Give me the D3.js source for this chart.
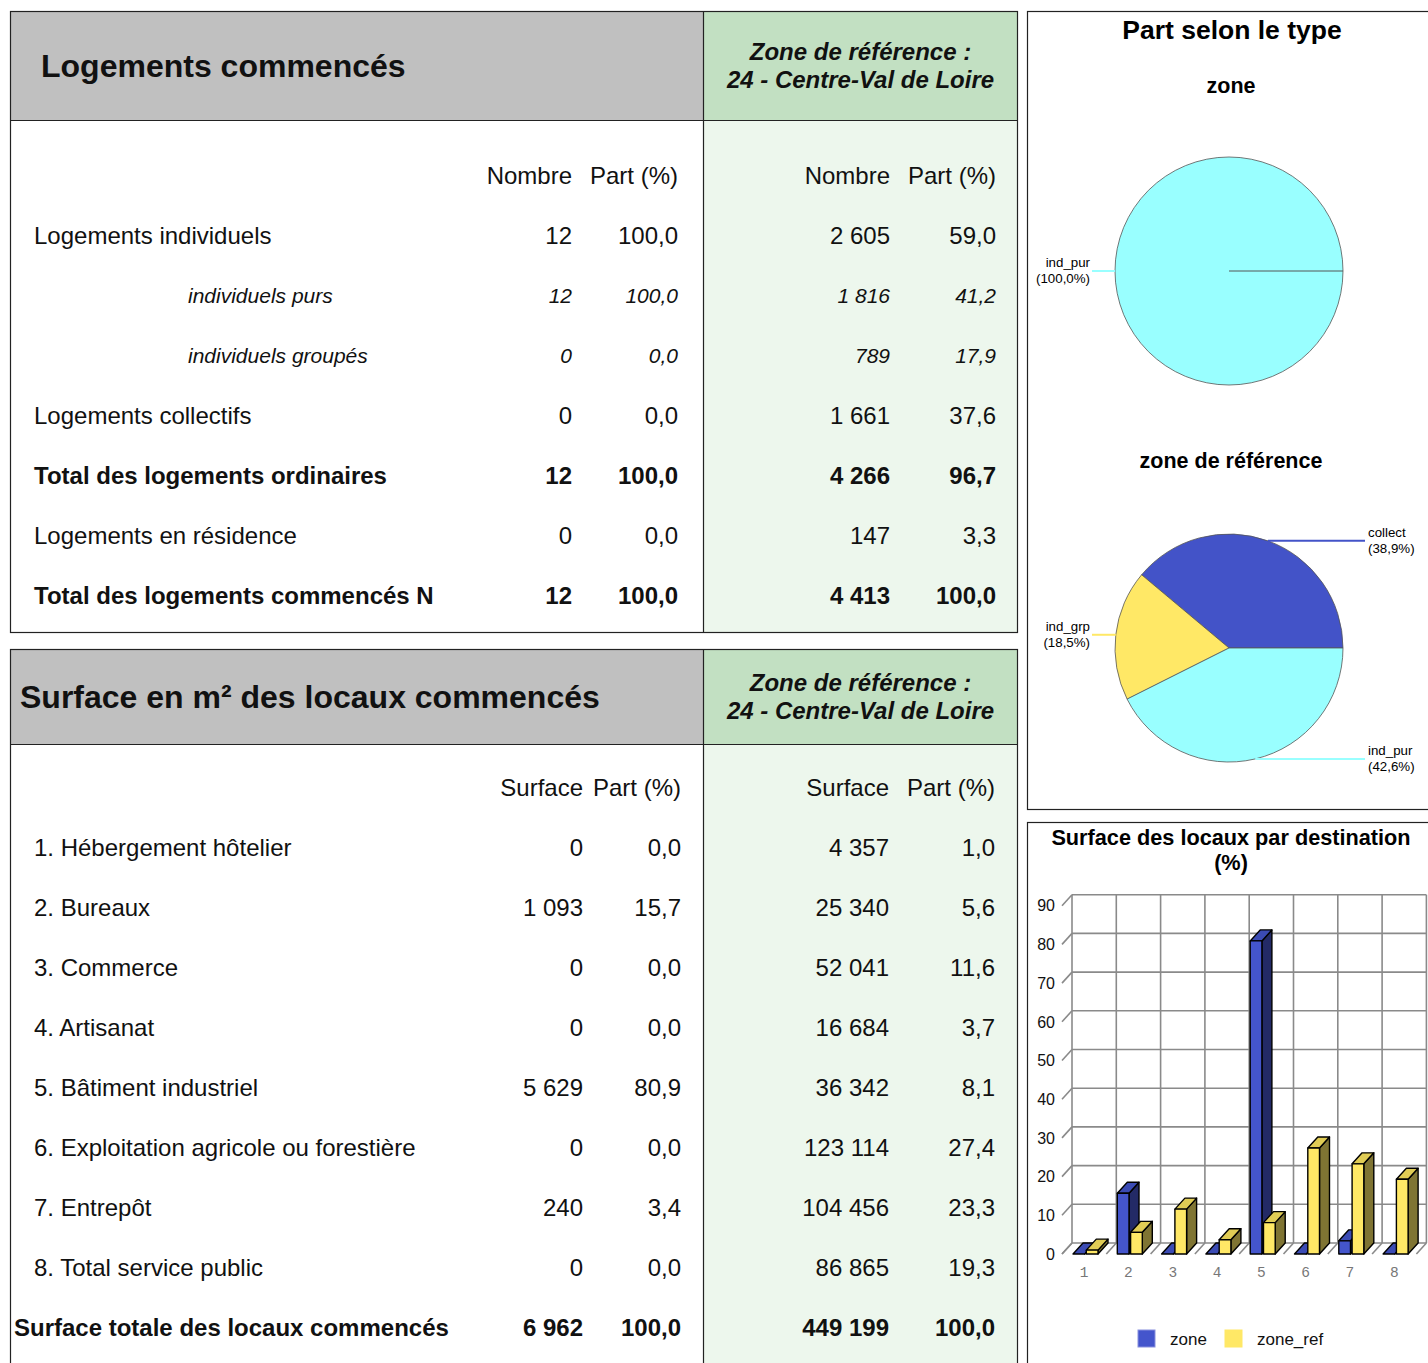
<!DOCTYPE html>
<html>
<head>
<meta charset="utf-8">
<script src="https://cdn.jsdelivr.net/npm/d3@7"></script>
<style>
  body { margin: 0; background: #fff; }
  svg { display: block; font-family: "Liberation Sans", Arial, sans-serif; }
</style>
</head>
<body>
<svg width="1428" height="1363"></svg>
<script>
// données logements
const logLabels = ["Logements individuels", "individuels purs", "individuels groupés", "Logements collectifs",
  "Total des logements ordinaires", "Logements en résidence", "Total des logements commencés N"];
const logZone = [12, 12, 0, 0, 12, 0, 12];
const logZonePart = [100.0, 100.0, 0.0, 0.0, 100.0, 0.0, 100.0];
const logRef = [2605, 1816, 789, 1661, 4266, 147, 4413];
const logRefPart = [59.0, 41.2, 17.9, 37.6, 96.7, 3.3, 100.0];

// données surfaces
const surfLabels = ["1. Hébergement hôtelier", "2. Bureaux", "3. Commerce", "4. Artisanat",
  "5. Bâtiment industriel", "6. Exploitation agricole ou forestière", "7. Entrepôt",
  "8. Total service public", "Surface totale des locaux commencés"];
const surfZone = [0, 1093, 0, 0, 5629, 0, 240, 0, 6962];
const surfZonePart = [0.0, 15.7, 0.0, 0.0, 80.9, 0.0, 3.4, 0.0, 100.0];
const surfRef = [4357, 25340, 52041, 16684, 36342, 123114, 104456, 86865, 449199];
const surfRefPart = [1.0, 5.6, 11.6, 3.7, 8.1, 27.4, 23.3, 19.3, 100.0];

// camemberts
const pieZoneTypes = ["ind_pur"];
const pieZoneValues = [100.0];
const pieRefTypes = ["collect", "ind_grp", "ind_pur"];
const pieRefValues = [38.9, 18.5, 42.6];

// histogramme
const barCats = ["1", "2", "3", "4", "5", "6", "7", "8"];
const barSeries = ["zone", "zone_ref"];
const barTicks = [0, 10, 20, 30, 40, 50, 60, 70, 80, 90];

const svg = d3.select("svg");
const fr = d3.formatLocale({decimal: ",", thousands: " ", grouping: [3], currency: ["", ""]});
const fmtInt = fr.format(",d");
const fmtPct = fr.format(".1f");

const typeColor = {collect: "#4353c8", ind_grp: "#ffe866", ind_pur: "#99ffff"};

function txt(g, x, y, s, size, opts = {}) {
  return g.append("text")
    .attr("x", x).attr("y", y).attr("dy", "0.33em")
    .attr("font-size", size)
    .attr("font-weight", opts.bold ? "bold" : null)
    .attr("font-style", opts.italic ? "italic" : null)
    .attr("text-anchor", opts.anchor || "start")
    .attr("fill", opts.fill || "#111")
    .text(s);
}

// ---------- tableaux ----------
function drawTable(t) {
  const g = svg.append("g");
  const L = 10.5, M = 703.5, R = 1017.5;
  const bodyTop = t.top + t.headH;

  g.append("rect").attr("x", L).attr("y", t.top).attr("width", M - L).attr("height", t.headH).attr("fill", "#c0c0c0");
  g.append("rect").attr("x", M).attr("y", t.top).attr("width", R - M).attr("height", t.headH).attr("fill", "#c2e0c2");
  g.append("rect").attr("x", M).attr("y", bodyTop).attr("width", R - M).attr("height", t.bottom - bodyTop).attr("fill", "#edf7ed");

  g.append("rect").attr("x", L).attr("y", t.top).attr("width", R - L).attr("height", t.bottom - t.top)
    .attr("fill", "none").attr("stroke", "#222").attr("stroke-width", 1.2);
  g.append("line").attr("x1", L).attr("x2", R).attr("y1", bodyTop).attr("y2", bodyTop).attr("stroke", "#222").attr("stroke-width", 1.2);
  g.append("line").attr("x1", M).attr("x2", M).attr("y1", t.top).attr("y2", t.bottom).attr("stroke", "#222").attr("stroke-width", 1.2);

  txt(g, t.titleX, t.top + t.headH / 2, t.title, 32, {bold: true});
  txt(g, (M + R) / 2, t.top + t.headH / 2 - 14, "Zone de référence :", 24, {bold: true, italic: true, anchor: "middle"});
  txt(g, (M + R) / 2, t.top + t.headH / 2 + 14, "24 - Centre-Val de Loire", 24, {bold: true, italic: true, anchor: "middle"});

  const cols = t.cols;
  [t.head1, "Part (%)", t.head1, "Part (%)"].forEach((h, i) => txt(g, cols[i], t.headY, h, 24, {anchor: "end"}));

  const y = d3.scaleBand().domain(d3.range(t.labels.length))
    .range([t.firstRow - 30, t.firstRow - 30 + 60 * t.labels.length]);

  t.labels.forEach((lab, i) => {
    const st = t.styles[i];
    const size = st === "italic" ? 21 : 24;
    const o = {bold: st === "bold", italic: st === "italic"};
    const cy = y(i) + y.bandwidth() / 2;
    txt(g, t.labelX[i], cy, lab, size, o);
    txt(g, cols[0], cy, fmtInt(t.v1[i]), size, {...o, anchor: "end"});
    txt(g, cols[1], cy, fmtPct(t.p1[i]), size, {...o, anchor: "end"});
    txt(g, cols[2], cy, fmtInt(t.v2[i]), size, {...o, anchor: "end"});
    txt(g, cols[3], cy, fmtPct(t.p2[i]), size, {...o, anchor: "end"});
  });
}

drawTable({
  top: 11.5, headH: 109, bottom: 632.5, title: "Logements commencés", titleX: 41,
  head1: "Nombre", headY: 176, cols: [572, 678, 890, 996], firstRow: 236,
  labels: logLabels, v1: logZone, p1: logZonePart, v2: logRef, p2: logRefPart,
  styles: ["normal", "italic", "italic", "normal", "bold", "normal", "bold"],
  labelX: [34, 188, 188, 34, 34, 34, 34]
});

drawTable({
  top: 649.5, headH: 95, bottom: 1400, title: "Surface en m² des locaux commencés", titleX: 20,
  head1: "Surface", headY: 788, cols: [583, 681, 889, 995], firstRow: 848,
  labels: surfLabels, v1: surfZone, p1: surfZonePart, v2: surfRef, p2: surfRefPart,
  styles: ["normal", "normal", "normal", "normal", "normal", "normal", "normal", "normal", "bold"],
  labelX: [34, 34, 34, 34, 34, 34, 34, 34, 14]
});

// ---------- panneaux de droite ----------
svg.append("rect").attr("x", 1027.5).attr("y", 11.5).attr("width", 420).attr("height", 798)
  .attr("fill", "#fff").attr("stroke", "#222").attr("stroke-width", 1.2);
svg.append("rect").attr("x", 1027.5).attr("y", 822.5).attr("width", 420).attr("height", 600)
  .attr("fill", "#fff").attr("stroke", "#222").attr("stroke-width", 1.2);

const pg = svg.append("g");
txt(pg, 1232, 30, "Part selon le type", 26.5, {bold: true, anchor: "middle", fill: "#000"});

function drawPie(types, values, cx, cy, title, titleY) {
  const g = svg.append("g");
  txt(g, cx + 2, titleY, title, 21.5, {bold: true, anchor: "middle", fill: "#000"});
  const r = 114;
  const data = types.map((t, i) => ({type: t, value: values[i]}));
  const arcs = d3.pie().sort(null).value(d => d.value)
    .startAngle(Math.PI / 2).endAngle(Math.PI / 2 - 2 * Math.PI)(data);
  const arc = d3.arc().innerRadius(0).outerRadius(r);
  const pg = g.append("g").attr("transform", `translate(${cx},${cy})`);
  pg.selectAll("path").data(arcs).join("path")
    .attr("d", arc)
    .attr("fill", d => typeColor[d.data.type])
    .attr("stroke", "#555").attr("stroke-width", 0.8);
  if (arcs.length === 1) {
    const a = arcs[0].startAngle;
    pg.append("line").attr("x1", 0).attr("y1", 0)
      .attr("x2", r * Math.sin(a)).attr("y2", -r * Math.cos(a))
      .attr("stroke", "#555").attr("stroke-width", 1);
  }
  arcs.forEach(d => {
    const mid = (d.startAngle + d.endAngle) / 2;
    const px = cx + r * Math.sin(mid), py = cy - r * Math.cos(mid);
    const left = px < cx;
    const ex = left ? cx - r - 23 : cx + r + 22;
    g.append("line").attr("x1", px).attr("y1", py).attr("x2", ex).attr("y2", py)
      .attr("stroke", typeColor[d.data.type]).attr("stroke-width", 2);
    const tx = left ? ex - 2 : ex + 3;
    const anchor = left ? "end" : "start";
    txt(g, tx, py - 8, d.data.type, 13.3, {anchor, fill: "#000"});
    txt(g, tx, py + 8, "(" + fmtPct(d.data.value) + "%)", 13.3, {anchor, fill: "#000"});
  });
}

drawPie(pieZoneTypes, pieZoneValues, 1229, 271, "zone", 86);
drawPie(pieRefTypes, pieRefValues, 1229, 648, "zone de référence", 461);

// ---------- histogramme 3D ----------
const bg = svg.append("g");
txt(bg, 1231, 838, "Surface des locaux par destination", 21.7, {bold: true, anchor: "middle", fill: "#000"});
txt(bg, 1231, 863, "(%)", 21.7, {bold: true, anchor: "middle", fill: "#000"});

const dx = 10, dy = -11;
const x = d3.scaleBand().domain(barCats).range([1062, 1416.4]);
const y = d3.scaleLinear().domain([0, 90]).range([1254, 1254 - 90 * 3.87]);
const sub = d3.scaleBand().domain(barSeries).range([11, 36]).paddingInner(0.12);
const gridCol = "#8a8a8a";

const grid = bg.append("g").attr("stroke", gridCol).attr("stroke-width", 1.6).attr("fill", "none");
const x0 = x.range()[0], x1 = x.range()[1];
// lignes horizontales du fond
grid.selectAll(".h").data(barTicks).join("line")
  .attr("x1", x0 + dx).attr("x2", x1 + dx)
  .attr("y1", d => y(d) + dy).attr("y2", d => y(d) + dy);
// diagonales de l'axe y
grid.selectAll(".d").data(barTicks).join("line")
  .attr("x1", x0).attr("x2", x0 + dx)
  .attr("y1", d => y(d)).attr("y2", d => y(d) + dy);
// verticales du fond + diagonales du sol
const bounds = barCats.map(c => x(c)).concat([x1]);
grid.selectAll(".v").data(bounds).join("line")
  .attr("x1", d => d + dx).attr("x2", d => d + dx)
  .attr("y1", y(0) + dy).attr("y2", y(90) + dy);
grid.selectAll(".f").data(bounds).join("line")
  .attr("x1", d => d).attr("x2", d => d + dx)
  .attr("y1", y(0)).attr("y2", y(0) + dy);

bg.selectAll(".yl").data(barTicks).join("text")
  .attr("x", 1055).attr("y", d => y(d)).attr("dy", "0.36em")
  .attr("text-anchor", "end").attr("font-size", 16).attr("fill", "#111")
  .text(d => d);
bg.selectAll(".xl").data(barCats).join("text")
  .attr("x", d => x(d) + x.bandwidth() / 2).attr("y", 1272).attr("dy", "0.36em")
  .attr("text-anchor", "middle").attr("font-size", 14.5).attr("fill", "#777")
  .attr("font-family", "'Liberation Mono', 'DejaVu Sans Mono', monospace")
  .text(d => d);

const barColors = {
  zone: {front: "#4455cc", side: "#232a66", top: "#3b4bb4"},
  zone_ref: {front: "#ffe866", side: "#7f7433", top: "#e0cc55"}
};
const barValues = {zone: surfZonePart.slice(0, 8), zone_ref: surfRefPart.slice(0, 8)};

barCats.forEach((c, i) => {
  barSeries.forEach(s => {
    const v = barValues[s][i];
    const bx = x(c) + sub(s), w = sub.bandwidth();
    const yt = y(v), yb = y(0);
    const col = barColors[s];
    const g = bg.append("g").attr("stroke", "#000").attr("stroke-width", 1.4).attr("stroke-linejoin", "round");
    g.append("polygon").attr("fill", col.side)
      .attr("points", [[bx + w, yt], [bx + w + dx, yt + dy], [bx + w + dx, yb + dy], [bx + w, yb]].join(" "));
    g.append("polygon").attr("fill", col.top)
      .attr("points", [[bx, yt], [bx + dx, yt + dy], [bx + w + dx, yt + dy], [bx + w, yt]].join(" "));
    if (v > 0) {
      g.append("rect").attr("x", bx).attr("y", yt).attr("width", w).attr("height", yb - yt).attr("fill", col.front);
    }
  });
});

// légende
const lg = bg.append("g");
const legX = {zone: 1138, zone_ref: 1225};
barSeries.forEach(s => {
  lg.append("rect").attr("x", legX[s]).attr("y", 1330).attr("width", 17).attr("height", 17)
    .attr("fill", barColors[s].front).attr("stroke", s === "zone" ? "#8890dd" : "#ffe866");
  txt(lg, legX[s] + 32, 1339, s, 17, {fill: "#111"});
});
</script>
</body>
</html>
